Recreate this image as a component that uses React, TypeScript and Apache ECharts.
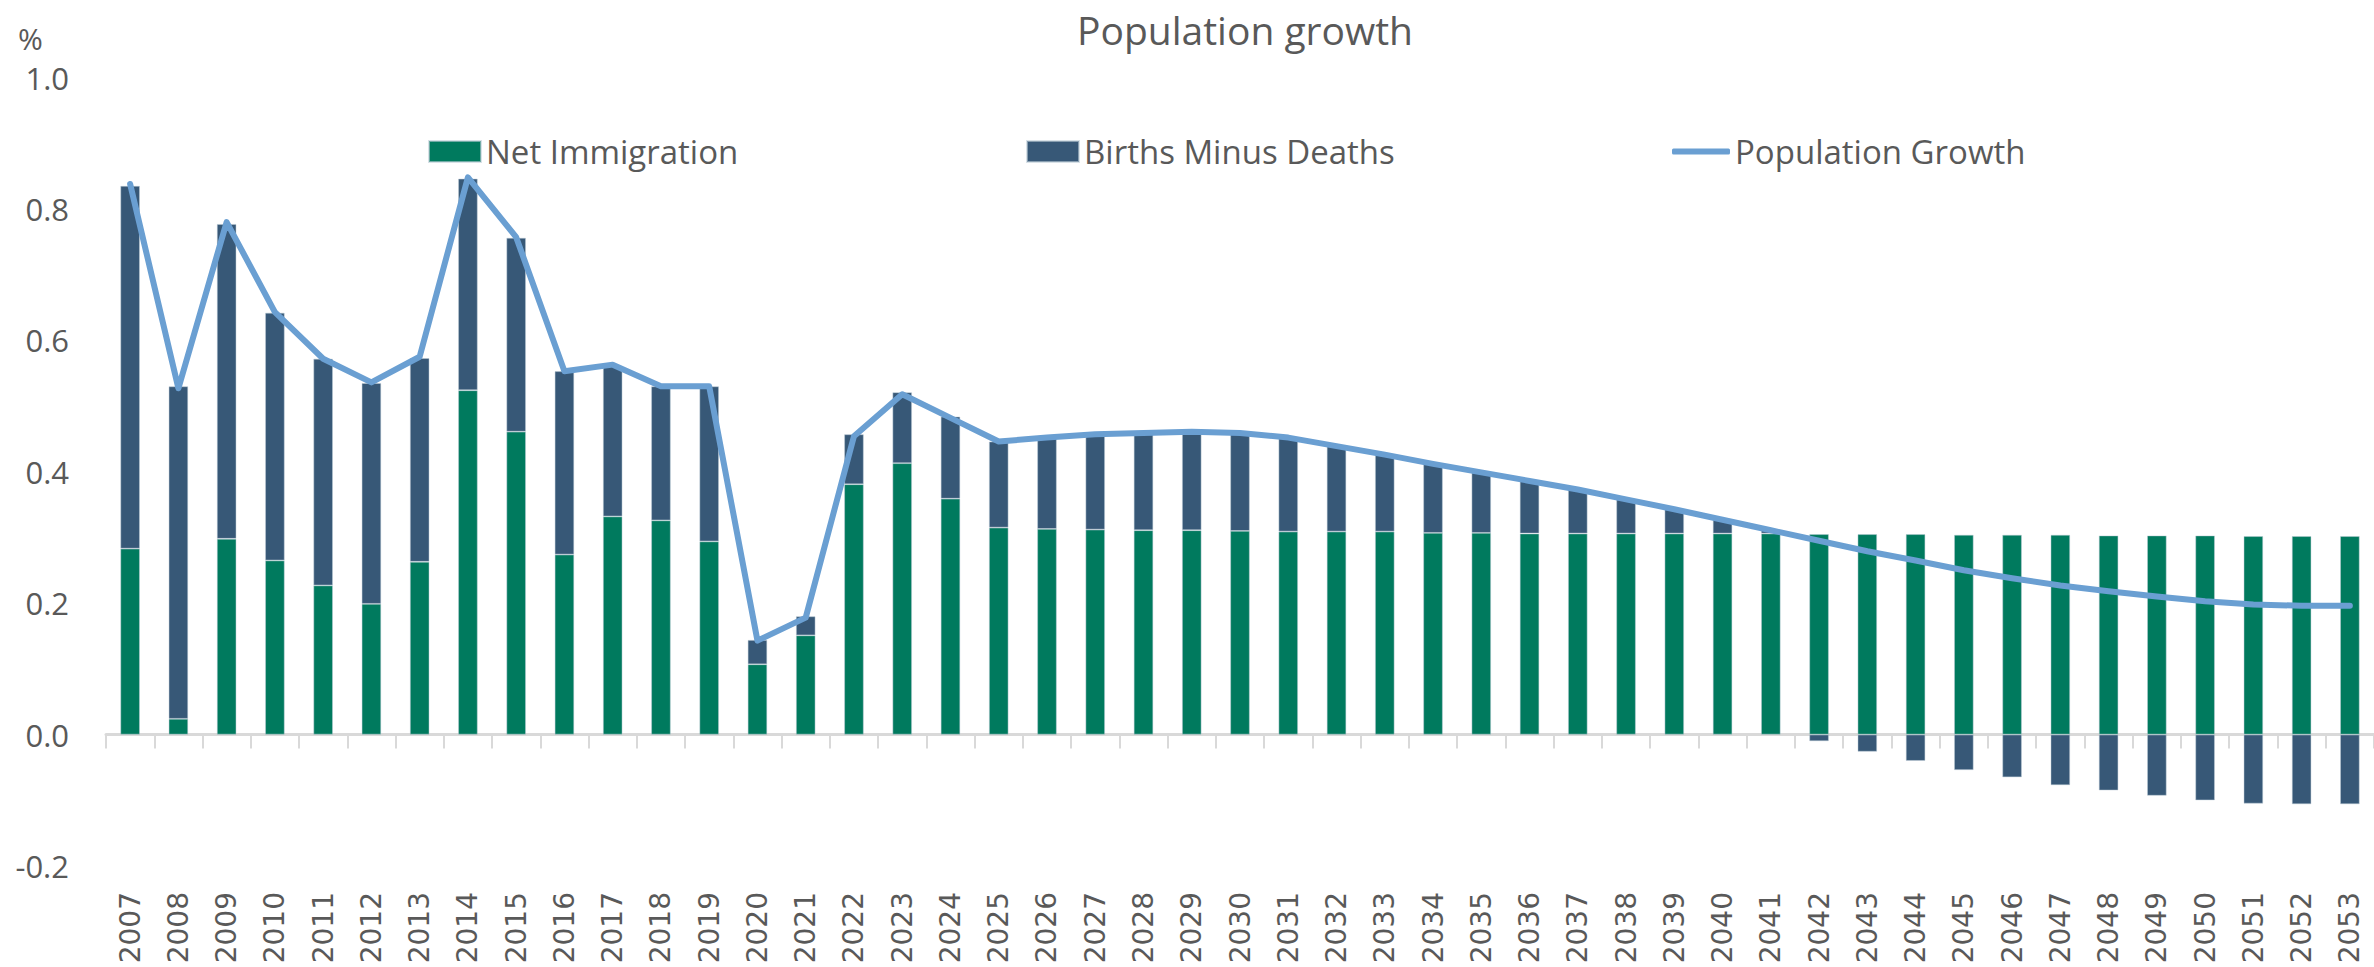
import React, { useEffect, useRef } from "react";
import * as echarts from "echarts";

// Calendar years on the category axis
const years = [
  "2007", "2008", "2009", "2010", "2011", "2012", "2013", "2014", "2015", "2016",
  "2017", "2018", "2019", "2020", "2021", "2022", "2023", "2024", "2025", "2026",
  "2027", "2028", "2029", "2030", "2031", "2032", "2033", "2034", "2035", "2036",
  "2037", "2038", "2039", "2040", "2041", "2042", "2043", "2044", "2045", "2046",
  "2047", "2048", "2049", "2050", "2051", "2052", "2053",
];

// Contribution of net immigration, % of population
const netImmigration = [
  0.283, 0.024, 0.298, 0.265, 0.227, 0.199, 0.263, 0.524, 0.461, 0.274,
  0.332, 0.326, 0.294, 0.107, 0.151, 0.381, 0.413, 0.359, 0.315, 0.313,
  0.312, 0.311, 0.311, 0.310, 0.309, 0.309, 0.309, 0.307, 0.307, 0.306,
  0.306, 0.306, 0.306, 0.306, 0.306, 0.305, 0.305, 0.305, 0.304, 0.304,
  0.304, 0.303, 0.303, 0.303, 0.302, 0.302, 0.302,
];

// Natural increase (births minus deaths), % of population
const birthsMinusDeaths = [
  0.552, 0.506, 0.479, 0.377, 0.345, 0.336, 0.310, 0.322, 0.295, 0.279,
  0.229, 0.204, 0.236, 0.037, 0.029, 0.076, 0.108, 0.125, 0.131, 0.139,
  0.145, 0.148, 0.150, 0.149, 0.143, 0.130, 0.117, 0.105, 0.092, 0.080,
  0.067, 0.052, 0.037, 0.021, 0.005, -0.010, -0.026, -0.040, -0.054, -0.065,
  -0.077, -0.085, -0.093, -0.100, -0.105, -0.106, -0.106,
];

// Total population growth, %
const populationGrowth = [
  0.838, 0.527, 0.780, 0.643, 0.572, 0.536, 0.575, 0.848, 0.757, 0.553,
  0.563, 0.530, 0.530, 0.143, 0.178, 0.454, 0.518, 0.482, 0.446, 0.452,
  0.457, 0.459, 0.461, 0.459, 0.452, 0.439, 0.426, 0.412, 0.399, 0.386,
  0.373, 0.358, 0.343, 0.327, 0.311, 0.295, 0.279, 0.265, 0.250, 0.238,
  0.227, 0.218, 0.210, 0.203, 0.198, 0.196, 0.196,
];

const TEXT = "#595959";
const FONT = '"Open Sans", "Noto Sans", sans-serif';
const GREEN = "#007A5E";
const NAVY = "#375877";
const LIGHT_BLUE = "#6A9FD2";
const AXIS_GREY = "#D9D9D9";

export default function App() {
  const ref = useRef<HTMLDivElement>(null);

  useEffect(() => {
    if (!ref.current) return;
    const chart = echarts.init(ref.current, null, { renderer: "svg" });

    const legendText = { fontSize: 33, color: TEXT, fontFamily: FONT };

    chart.setOption({
      animation: false,
      backgroundColor: "#ffffff",
      textStyle: { fontFamily: FONT, color: TEXT },
      title: {
        text: "Population growth",
        left: 1240,
        top: 5,
        textAlign: "center",
        textStyle: { fontSize: 39, fontWeight: "normal", color: TEXT, fontFamily: FONT },
      },
      graphic: [
        {
          type: "text",
          left: 18,
          top: 23,
          style: { text: "%", fontSize: 30, fill: TEXT, fontFamily: FONT },
        },
      ],
      legend: [
        {
          data: ["Net Immigration"],
          left: 423,
          top: 130,
          itemWidth: 52,
          itemHeight: 21,
          icon: "rect",
          textStyle: legendText,
        },
        {
          data: ["Births Minus Deaths"],
          left: 1021,
          top: 130,
          itemWidth: 52,
          itemHeight: 21,
          icon: "rect",
          textStyle: legendText,
        },
        {
          data: ["Population Growth"],
          left: 1667,
          top: 130,
          itemWidth: 58,
          itemHeight: 6,
          icon: "roundRect",
          textStyle: legendText,
        },
      ],
      grid: { left: 106, right: -12, top: 77.5, bottom: 101, containLabel: false },
      xAxis: [
        {
          type: "category",
          data: years,
          position: "bottom",
          axisLine: { show: true, onZero: true, lineStyle: { color: AXIS_GREY, width: 3 } },
          axisTick: { show: true, length: 14, lineStyle: { color: AXIS_GREY, width: 2 } },
          axisLabel: { show: false },
          splitLine: { show: false },
        },
        {
          type: "category",
          data: years,
          position: "bottom",
          axisLine: { show: false, onZero: false },
          axisTick: { show: false },
          axisLabel: {
            show: true,
            interval: 0,
            rotate: 90,
            margin: 26,
            fontSize: 28,
            fontFamily: '"DejaVu Sans", sans-serif',
            color: TEXT,
          },
          splitLine: { show: false },
        },
      ],
      yAxis: {
        type: "value",
        min: -0.2,
        max: 1.0,
        interval: 0.2,
        axisLine: { show: false },
        axisTick: { show: false },
        splitLine: { show: false },
        axisLabel: {
          fontSize: 31,
          margin: 37,
          color: TEXT,
          fontFamily: FONT,
          formatter: (v: number) => v.toFixed(1),
        },
      },
      series: [
        {
          name: "Net Immigration",
          type: "bar",
          stack: "growth",
          xAxisIndex: 0,
          barWidth: 19.5,
          itemStyle: { color: GREEN, borderColor: "rgba(190,205,215,0.6)", borderWidth: 0.8 },
          data: netImmigration,
        },
        {
          name: "Births Minus Deaths",
          type: "bar",
          stack: "growth",
          xAxisIndex: 0,
          barWidth: 19.5,
          itemStyle: { color: NAVY, borderColor: "rgba(190,205,215,0.6)", borderWidth: 0.8 },
          data: birthsMinusDeaths,
        },
        {
          name: "Population Growth",
          type: "line",
          xAxisIndex: 0,
          symbol: "none",
          z: 5,
          lineStyle: { color: LIGHT_BLUE, width: 6, cap: "round", join: "round" },
          itemStyle: { color: LIGHT_BLUE },
          data: populationGrowth,
        },
      ],
    });

    return () => chart.dispose();
  }, []);

  return (
    <div
      ref={ref}
      style={{ position: "absolute", left: 0, top: 0, width: 2374, height: 967 }}
    />
  );
}
